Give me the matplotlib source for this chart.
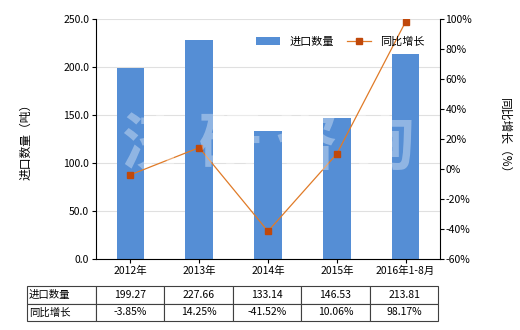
import matplotlib
matplotlib.use('Agg')
import matplotlib.pyplot as plt
import numpy as np

plt.rcParams['font.family'] = ['Noto Sans CJK SC', 'DejaVu Sans']

years = ['2012年', '2013年', '2014年', '2015年', '2016年1-8月']
qty = [199.27, 227.66, 133.14, 146.53, 213.81]
growth = [-3.85, 14.25, -41.52, 10.06, 98.17]
qty_lbl = ['199.27', '227.66', '133.14', '146.53', '213.81']
growth_lbl = ['-3.85%', '14.25%', '-41.52%', '10.06%', '98.17%']

W, H = 520, 330
fig = plt.figure(figsize=(W/100, H/100), dpi=100)
ax = fig.add_axes([96/W, (H-259)/H, 344/W, 240/H])
x = np.arange(len(years))

ax.bar(x, qty, width=0.4, color='#558ED5', label='进口数量', zorder=2)
ax.set_xlim(-0.5, len(years)-0.5)
ax.set_ylim(0, 250)
ax.set_yticks(np.arange(0, 251, 50))
ax.set_yticklabels(['%.1f' % v for v in np.arange(0, 251, 50)], fontsize=7.5)
ax.set_xticks(x)
ax.set_xticklabels(years, fontsize=7.5)
ax.grid(axis='y', color='#e0e0e0', lw=0.8, zorder=0)
for s in ['top', 'right']:
    ax.spines[s].set_visible(False)
ax.tick_params(axis='both', length=3, pad=2)
ax.set_ylabel('进口数量（吨）', fontsize=8.5, labelpad=22)

ax2 = ax.twinx()
ax2.plot(x, growth, color='#E07B28', lw=0.9, marker='s', ms=4.5,
         mfc='#C0480A', mec='#C0480A', label='同比增长', zorder=3)
ax2.set_ylim(-60, 100)
ax2.set_yticks(np.arange(-60, 101, 20))
ax2.set_yticklabels(['%d%%' % v for v in np.arange(-60, 101, 20)], fontsize=7.5)
for s in ['top', 'left', 'bottom']:
    ax2.spines[s].set_visible(False)
ax2.tick_params(axis='y', length=3, pad=1)
ax2.set_ylabel('同比增长（%）', fontsize=8.5, rotation=270, labelpad=28)

h1, l1 = ax.get_legend_handles_labels()
h2, l2 = ax2.get_legend_handles_labels()
ax2.legend(h1+h2, l1+l2, loc='upper right', bbox_to_anchor=(0.985, 0.97), ncol=2,
           frameon=False, fontsize=8, handlelength=2.2, columnspacing=1.2)

# watermark
fig.text(268/W, 1-146/H, '济 研 咨 询', fontsize=45, color='white', alpha=0.35,
         ha='center', va='center', fontweight='bold', zorder=10)

# data table
cells = [['进口数量'] + qty_lbl, ['同比增长'] + growth_lbl]
tab = ax.table(cellText=cells, colWidths=[69/344] + [68.8/344]*5,
               bbox=[-69/344, (259-321)/240, 1+69/344-0.005, (321-286)/240],
               cellLoc='center')
tab.auto_set_font_size(False)
for (r, c), cell in tab.get_celld().items():
    cell.set_fontsize(7.5)
    cell.set_edgecolor('#404040')
    cell.set_linewidth(0.8)
    if c == 0:
        cell.get_text().set_ha('left')
        cell.PAD = 0.03

fig.savefig('out.png', dpi=100)
